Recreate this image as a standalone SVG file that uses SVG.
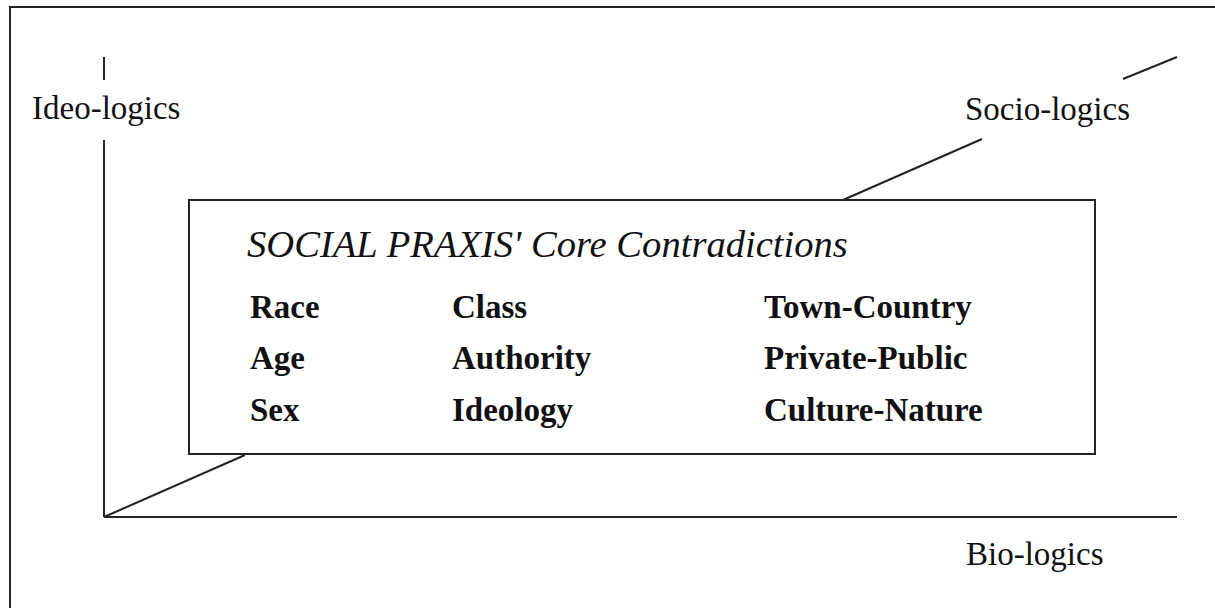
<svg xmlns="http://www.w3.org/2000/svg" width="1215" height="608" viewBox="0 0 1215 608">
<style>
.ln{stroke:#222;stroke-width:2;fill:none}
.lbl{font-family:"Liberation Serif","Times New Roman",serif;font-size:33px;fill:#111}
.title{font-family:"Liberation Serif","Times New Roman",serif;font-size:38.6px;font-style:italic;fill:#111}
.item{font-family:"Liberation Serif","Times New Roman",serif;font-size:33px;font-weight:bold;fill:#111}
</style>
<rect x="0" y="0" width="1215" height="608" fill="#fff"/>
<path class="ln" d="M10,608 V7 H1215"/>
<g id="connectors">
<line class="ln" x1="104" y1="57" x2="104" y2="80"/>
<line class="ln" x1="104" y1="140" x2="104" y2="517"/>
<line class="ln" x1="104" y1="517" x2="1177" y2="517"/>
<line class="ln" x1="104" y1="517" x2="245" y2="455"/>
<line class="ln" x1="843" y1="200" x2="982" y2="139"/>
<line class="ln" x1="1123" y1="79" x2="1177" y2="57"/>
</g>
<g id="axis-ideo"><text class="lbl" x="32" y="119">Ideo-logics</text></g>
<g id="axis-socio"><text class="lbl" x="965" y="120">Socio-logics</text></g>
<g id="axis-bio"><text class="lbl" x="966" y="565">Bio-logics</text></g>
<g id="core-box">
<rect class="ln" x="189" y="200" width="906" height="254" fill="#fff"/>
<text class="title" x="247" y="257">SOCIAL PRAXIS' Core Contradictions</text>
<text class="item" x="250" y="318">Race</text>
<text class="item" x="452" y="318">Class</text>
<text class="item" x="764" y="318">Town-Country</text>
<text class="item" x="250" y="369">Age</text>
<text class="item" x="452" y="369">Authority</text>
<text class="item" x="764" y="369">Private-Public</text>
<text class="item" x="250" y="421">Sex</text>
<text class="item" x="452" y="421">Ideology</text>
<text class="item" x="764" y="421">Culture-Nature</text>
</g>
</svg>
